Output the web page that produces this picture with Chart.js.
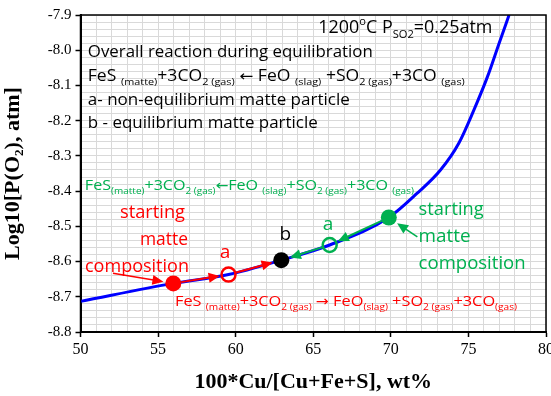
<!DOCTYPE html>
<html>
<head>
<meta charset="utf-8">
<script src="https://cdn.jsdelivr.net/npm/chart.js@4/dist/chart.umd.min.js"></script>
<style>
  html, body { margin: 0; padding: 0; background: #fff; overflow: hidden; width: 551px; height: 396px; }
  #chart { display: block; }
</style>
</head>
<body>
<canvas id="chart" width="557" height="396"></canvas>
<script>
// Equilibrium curve: log10 pO2 versus Cu content of the matte
const curveCu  = [50, 55.98, 59.54, 62.94, 66.06, 69.87, 71.7, 73.2, 74.38, 75.35, 76.23, 76.98, 77.62];
const curveLog = [-8.713, -8.662, -8.637, -8.596, -8.553, -8.475, -8.406, -8.34, -8.264, -8.17, -8.075, -7.98, -7.9];

// Matte particles on the curve
const redStartPt   = [55.98, -8.662];   // starting matte composition (Cu-poor side)
const redAPt       = [59.54, -8.637];   // a, non-equilibrium (Cu-poor side)
const eqBPt        = [62.94, -8.596];   // b, equilibrium matte
const greenAPt     = [66.06, -8.553];   // a, non-equilibrium (Cu-rich side)
const greenStartPt = [69.87, -8.475];   // starting matte composition (Cu-rich side)

// Axis range and ticks
const xRange = [50, 80];
const yRange = [-8.8, -7.9];
const xMajor = 5, xMinor = 1;
const yMajor = 0.1, yMinor = 0.02;

const RED = '#ff0000', GREEN = '#00b050', BLUE = '#0000ff', BLACK = '#000000';
const SANS = '"Open Sans", "Liberation Sans", "DejaVu Sans", sans-serif';
const ARROW_FONT = '"DejaVu Sans", sans-serif';
const SERIF = '"Liberation Serif", "DejaVu Serif", serif';

const pt = p => ({ x: p[0], y: p[1] });
const isMajor = (v, step) => Math.abs(v / step - Math.round(v / step)) < 1e-6;

// Annotation texts: [text, kind] where kind is '' | 'sub' | 'sup' | 'arrow'
const reactionBack = [['FeS ', ''], ['(matte)', 'sub'], ['+3CO', ''], ['2 (gas)', 'sub'], [' ', ''], ['\u2190', 'arrow'], [' FeO ', ''], ['(slag)', 'sub'], [' +SO', ''], ['2 (gas)', 'sub'], ['+3CO ', ''], ['(gas)', 'sub']];
const reactionBackGreen = [['FeS', ''], ['(matte)', 'sub'], ['+3CO', ''], ['2 (gas)', 'sub'], ['\u2190', 'arrow'], ['FeO ', ''], ['(slag)', 'sub'], ['+SO', ''], ['2 (gas)', 'sub'], ['+3CO ', ''], ['(gas)', 'sub']];
const reactionFwd = [['FeS ', ''], ['(matte)', 'sub'], ['+3CO', ''], ['2 (gas)', 'sub'], [' ', ''], ['\u2192', 'arrow'], [' FeO', ''], ['(slag)', 'sub'], [' +SO', ''], ['2 (gas)', 'sub'], ['+3CO', ''], ['(gas)', 'sub']];

const labels = [
  { segs: [['1200', ''], ['o', 'sup'], ['C P', ''], ['SO2', 'sub'], ['=0.25atm', '']], x: 65.33, y: -7.951, size: 18, w: 174, color: BLACK },
  { segs: [['Overall reaction during equilibration', '']], x: 50.47, y: -8.019, size: 15.5, w: 285, color: BLACK },
  { segs: reactionBack, x: 50.47, y: -8.087, size: 15.5, w: 377, color: BLACK },
  { segs: [['a- non-equilibrium matte particle', '']], x: 50.47, y: -8.155, size: 15.5, w: 262, color: BLACK },
  { segs: [['b - equilibrium matte particle', '']], x: 50.47, y: -8.221, size: 15.5, w: 230, color: BLACK },
  { segs: reactionBackGreen, x: 50.28, y: -8.397, size: 14, w: 329, color: GREEN },
  { segs: [['starting', '']], x: 54.64, y: -8.477, size: 17.5, w: 65, color: RED, align: 'center' },
  { segs: [['matte', '']], x: 55.38, y: -8.554, size: 17.5, w: 48, color: RED, align: 'center' },
  { segs: [['composition', '']], x: 53.64, y: -8.629, size: 17.5, w: 104, color: RED, align: 'center' },
  { segs: [['a', '']], x: 59.32, y: -8.590, size: 19, color: RED, align: 'center' },
  { segs: reactionFwd, x: 56.09, y: -8.727, size: 15, w: 342, color: RED },
  { segs: [['starting', '']], x: 71.79, y: -8.468, size: 17.5, w: 65, color: GREEN },
  { segs: [['matte', '']], x: 71.79, y: -8.544, size: 17.5, w: 52, color: GREEN },
  { segs: [['composition', '']], x: 71.79, y: -8.620, size: 17.5, w: 107, color: GREEN },
  { segs: [['a', '']], x: 65.95, y: -8.509, size: 19, color: GREEN, align: 'center' },
  { segs: [['b', '']], x: 63.20, y: -8.539, size: 19, color: BLACK, align: 'center' }
];

const MARK_R = 8;

function segFont(size, kind) {
  if (kind === 'arrow') return (size * 0.95) + 'px ' + ARROW_FONT;
  return (kind ? size * 0.62 : size) + 'px ' + SANS;
}

function drawRich(ctx, chart, item) {
  const xs = chart.scales.x, ys = chart.scales.y;
  const px = xs.getPixelForValue(item.x), py = ys.getPixelForValue(item.y);
  let natural = 0;
  for (const [t, k] of item.segs) { ctx.font = segFont(item.size, k); natural += ctx.measureText(t).width; }
  const width = item.w || natural;
  const sx = width / natural;
  const left = item.align === 'center' ? px - width / 2 : px;
  ctx.save();
  ctx.translate(left, py);
  ctx.scale(sx, 1);
  ctx.fillStyle = item.color;
  ctx.textBaseline = 'alphabetic';
  ctx.textAlign = 'left';
  let cur = 0;
  for (const [t, k] of item.segs) {
    ctx.font = segFont(item.size, k);
    const dy = k === 'sub' ? item.size * 0.26 : (k === 'sup' ? -item.size * 0.42 : 0);
    ctx.fillText(t, cur, dy);
    cur += ctx.measureText(t).width;
  }
  ctx.restore();
}

function arrow(ctx, x0, y0, x1, y1, color, lw, hl, hw) {
  const dx = x1 - x0, dy = y1 - y0, len = Math.hypot(dx, dy);
  const ux = dx / len, uy = dy / len;
  const bx = x1 - ux * hl, by = y1 - uy * hl;
  ctx.save();
  ctx.strokeStyle = color; ctx.fillStyle = color; ctx.lineWidth = lw;
  ctx.beginPath(); ctx.moveTo(x0, y0); ctx.lineTo(bx + ux, by + uy); ctx.stroke();
  ctx.beginPath();
  ctx.moveTo(x1, y1);
  ctx.lineTo(bx - uy * hw, by + ux * hw);
  ctx.lineTo(bx + uy * hw, by - ux * hw);
  ctx.closePath(); ctx.fill();
  ctx.restore();
}

// Arrow between two points, trimmed to the marker edges
function pathArrow(ctx, chart, from, to, color, fromGap, toGap) {
  const xs = chart.scales.x, ys = chart.scales.y;
  const x0 = xs.getPixelForValue(from[0]), y0 = ys.getPixelForValue(from[1]);
  const x1 = xs.getPixelForValue(to[0]), y1 = ys.getPixelForValue(to[1]);
  const len = Math.hypot(x1 - x0, y1 - y0), ux = (x1 - x0) / len, uy = (y1 - y0) / len;
  arrow(ctx, x0 + ux * fromGap, y0 + uy * fromGap, x1 - ux * toGap, y1 - uy * toGap, color, 2, 11, 5);
}

const overlayPlugin = {
  id: 'overlay',
  afterDatasetDraw(chart, args) {
    if (args.index !== 0) return;
    const ctx = chart.ctx;
    // reaction direction along the curve
    pathArrow(ctx, chart, redStartPt, redAPt, RED, MARK_R, MARK_R + 1);
    pathArrow(ctx, chart, redAPt, eqBPt, RED, MARK_R, MARK_R + 1);
    pathArrow(ctx, chart, greenStartPt, greenAPt, GREEN, MARK_R, MARK_R + 1);
    pathArrow(ctx, chart, greenAPt, eqBPt, GREEN, MARK_R, MARK_R + 1);
    // pointers from the "starting matte composition" labels
    const xs = chart.scales.x, ys = chart.scales.y;
    const pointer = (tail, target, color) => {
      const x0 = xs.getPixelForValue(tail[0]), y0 = ys.getPixelForValue(tail[1]);
      const tx = xs.getPixelForValue(target[0]), ty = ys.getPixelForValue(target[1]);
      const len = Math.hypot(tx - x0, ty - y0);
      const gap = MARK_R + 2;
      arrow(ctx, x0, y0, tx - (tx - x0) / len * gap, ty - (ty - y0) / len * gap, color, 1.5, 11, 5);
    };
    pointer([52.09, -8.633], redStartPt, RED);
    pointer([71.71, -8.530], greenStartPt, GREEN);
  },
  afterDraw(chart) {
    const ctx = chart.ctx, a = chart.chartArea;
    ctx.save();
    ctx.strokeStyle = BLACK; ctx.lineWidth = 1.5;
    ctx.strokeRect(a.left, a.top, a.right - a.left, a.bottom - a.top);
    ctx.restore();
    for (const item of labels) drawRich(ctx, chart, item);
  }
};

const gridColor = '#d9d9d9';

new Chart(document.getElementById('chart'), {
  type: 'line',
  data: {
    datasets: [
      {
        data: curveCu.map((x, i) => ({ x, y: curveLog[i] })),
        borderColor: BLUE, borderWidth: 3, pointRadius: 0,
        cubicInterpolationMode: 'monotone', fill: false, order: 10
      },
      { type: 'scatter', data: [pt(redStartPt)], pointRadius: MARK_R, backgroundColor: RED, borderColor: RED, borderWidth: 0, order: 1 },
      { type: 'scatter', data: [pt(redAPt)], pointRadius: MARK_R - 1, backgroundColor: 'rgba(0,0,0,0)', borderColor: RED, borderWidth: 2.5, order: 1 },
      { type: 'scatter', data: [pt(eqBPt)], pointRadius: MARK_R, backgroundColor: BLACK, borderColor: BLACK, borderWidth: 0, order: 1 },
      { type: 'scatter', data: [pt(greenAPt)], pointRadius: MARK_R - 1, backgroundColor: 'rgba(0,0,0,0)', borderColor: GREEN, borderWidth: 2.5, order: 1 },
      { type: 'scatter', data: [pt(greenStartPt)], pointRadius: MARK_R, backgroundColor: GREEN, borderColor: GREEN, borderWidth: 0, order: 1 }
    ]
  },
  options: {
    responsive: false,
    devicePixelRatio: 1,
    animation: false,
    layout: { padding: { top: 15, right: 2, left: 0, bottom: 0 } },
    plugins: { legend: { display: false }, tooltip: { enabled: false } },
    scales: {
      x: {
        type: 'linear', min: xRange[0], max: xRange[1],
        ticks: {
          stepSize: xMinor, autoSkip: false, maxRotation: 0, padding: 3,
          color: BLACK, font: { family: SERIF, size: 16 },
          callback: v => isMajor(v, xMajor) ? String(v) : ''
        },
        grid: {
          color: gridColor, lineWidth: 1, tickLength: 5,
          tickColor: c => (c.tick && isMajor(c.tick.value, xMajor)) ? BLACK : 'rgba(0,0,0,0)',
          tickWidth: 1.5
        },
        border: { color: BLACK, width: 2 },
        title: {
          display: true, text: '100*Cu/[Cu+Fe+S], wt%', color: BLACK,
          font: { family: SERIF, size: 22, weight: 'bold' }, padding: { top: 0, bottom: 0 }
        },
        afterFit: s => { s.height = 64; }
      },
      y: {
        type: 'linear', min: yRange[0], max: yRange[1],
        ticks: {
          stepSize: yMinor, autoSkip: false, padding: 4,
          color: BLACK, font: { family: SERIF, size: 15 },
          callback: v => isMajor(v, yMajor) ? v.toFixed(1) : ''
        },
        grid: {
          color: gridColor, lineWidth: 1, tickLength: 5,
          tickColor: c => (c.tick && isMajor(c.tick.value, yMajor)) ? BLACK : 'rgba(0,0,0,0)',
          tickWidth: 1.5
        },
        border: { color: BLACK, width: 2 },
        title: {
          display: true, text: 'Log10[P(O\u2082), atm]', color: BLACK,
          font: { family: SERIF, size: 22, weight: 'bold' }, padding: { top: 0, bottom: 4 }
        },
        afterFit: s => { s.width = 80.5; }
      }
    }
  },
  plugins: [overlayPlugin]
});
</script>
</body>
</html>
